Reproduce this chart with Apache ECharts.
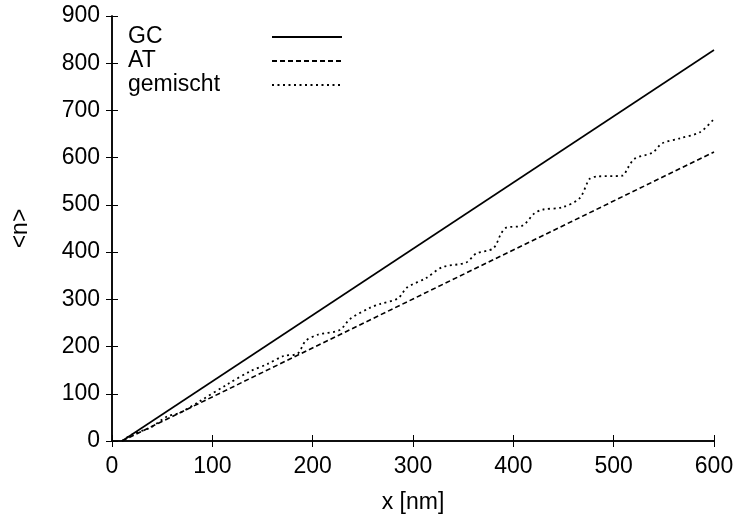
<!DOCTYPE html>
<html><head><meta charset="utf-8">
<script src="https://cdn.jsdelivr.net/npm/echarts@6/dist/echarts.min.js"></script>
<style>html,body{margin:0;padding:0;background:#fff}#c{width:738px;height:524px}</style>
</head><body><div id="c"></div>
<script>
var seriesNames = ['GC', 'AT', 'gemischt'];
var xTicks = [0, 100, 200, 300, 400, 500, 600];
var yTicks = [0, 100, 200, 300, 400, 500, 600, 700, 800, 900];
var gcData = [[10, 0], [600, 828]];
var atData = [[10, 0], [600, 612]];
var gemischtData = [[10,0],[21,15],[38,28],[55,52],[68,60],[88,85],[115,120],[138,148],[155,163],[171,180],[185,185],[193,212],[205,225],[227,235],[237,258],[257,282],[267,290],[285,302],[294,325],[313,345],[329,368],[353,378],[363,397],[380,408],[388,440],[393,452],[409,456],[421,482],[429,490],[449,495],[466,514],[476,555],[483,560],[509,562],[514,578],[521,598],[539,611],[548,630],[566,641],[586,654],[600,682]];

var font = 'Liberation Sans, Arial, sans-serif';
var fs = 23;
var chart = echarts.init(document.getElementById('c'), null, {renderer: 'canvas'});
var axisCommon = {
  axisLine: {show: true, lineStyle: {color: '#000', width: 1.5}},
  axisTick: {show: true, inside: true, length: 6, lineStyle: {color: '#000', width: 1}},
  splitLine: {show: false}
};
chart.setOption({
  animation: false,
  backgroundColor: '#fff',
  grid: {left: 112, top: 16, width: 602, height: 425, containLabel: false},
  legend: {
    orient: 'vertical', left: 128, top: 25, align: 'right', padding: 0,
    itemWidth: 70, itemHeight: 10, itemGap: 0,
    itemStyle: {opacity: 0},
    formatter: function (n) { return '{a|' + n + '}'; },
    textStyle: {fontFamily: font, fontSize: fs, color: '#000', lineHeight: 24,
      rich: {a: {fontFamily: font, fontSize: fs, color: '#000', width: 139, align: 'left', lineHeight: 24, height: 24}}},
    data: seriesNames
  },
  xAxis: [
    Object.assign({type: 'value', min: xTicks[0], max: xTicks[xTicks.length-1], interval: 100, position: 'bottom',
      name: 'x [nm]', nameLocation: 'middle', nameGap: 50,
      nameTextStyle: {fontFamily: font, fontSize: fs, color: '#000'},
      axisLabel: {fontFamily: font, fontSize: fs, color: '#000', margin: 14}}, axisCommon),
    Object.assign({type: 'value', min: xTicks[0], max: xTicks[xTicks.length-1], interval: 100, position: 'top',
      axisLabel: {show: false}}, axisCommon)
  ],
  yAxis: [
    Object.assign({type: 'value', min: yTicks[0], max: yTicks[yTicks.length-1], interval: 100, position: 'left',
      name: '<n>', nameLocation: 'middle', nameGap: 80, nameRotate: 90,
      nameTextStyle: {fontFamily: font, fontSize: fs, color: '#000'},
      axisLabel: {fontFamily: font, fontSize: fs, color: '#000', margin: 12}}, axisCommon),
    Object.assign({type: 'value', min: yTicks[0], max: yTicks[yTicks.length-1], interval: 100, position: 'right',
      axisLabel: {show: false}}, axisCommon)
  ],
  series: [
    {name: seriesNames[0], type: 'line', data: gcData, symbol: 'none', lineStyle: {color: '#000', width: 1.6, type: 'solid'}, itemStyle: {color: '#000'}},
    {name: seriesNames[1], type: 'line', data: atData, symbol: 'none', lineStyle: {color: '#000', width: 1.6, type: [5, 3]}, itemStyle: {color: '#000'}},
    {name: seriesNames[2], type: 'line', data: gemischtData, symbol: 'none', smooth: 0.3, lineStyle: {color: '#000', width: 1.8, type: [2, 3.5]}, itemStyle: {color: '#000'}}
  ]
});
</script></body></html>
